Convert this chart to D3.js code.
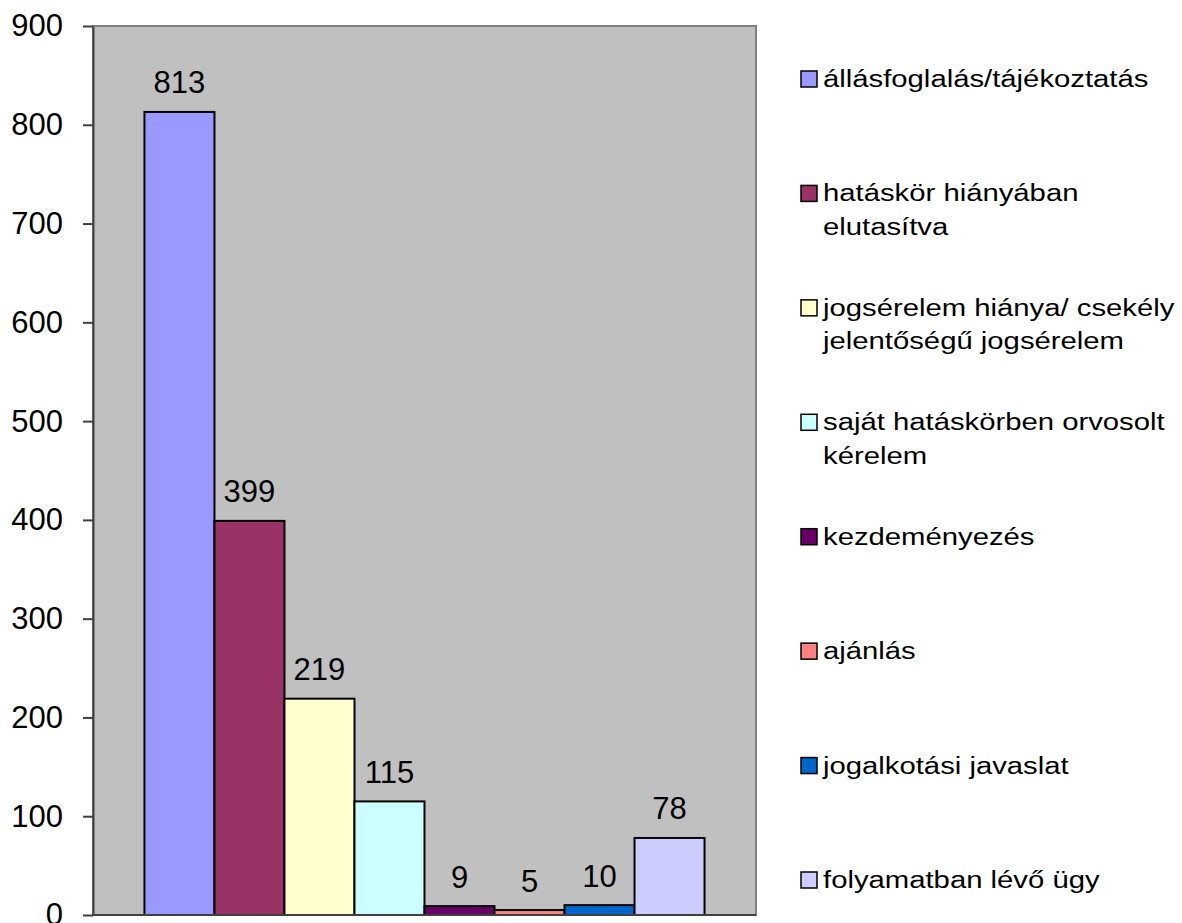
<!DOCTYPE html>
<html>
<head>
<meta charset="utf-8">
<script src="https://cdn.jsdelivr.net/npm/d3@7"></script>
<style>
  html, body { margin: 0; padding: 0; background: #fff; }
  svg { display: block; font-family: "Liberation Sans", Arial, sans-serif; }
</style>
</head>
<body>
<svg id="chart" width="1182" height="923"></svg>
<script>
// ---- data ----
const categories = [
    'állásfoglalás/tájékoztatás',
    'hatáskör hiányában\nelutasítva',
    'jogsérelem hiánya/ csekély\njelentőségű jogsérelem',
    'saját hatáskörben orvosolt\nkérelem',
    'kezdeményezés',
    'ajánlás',
    'jogalkotási javaslat',
    'folyamatban lévő ügy'
];
const values = [813, 399, 219, 115, 9, 5, 10, 78];
const barColors = ['#9999FF', '#993366', '#FFFFCC', '#CCFFFF', '#660066', '#FF8080', '#0066CC', '#CCCCFF'];
const yTicks = [0, 100, 200, 300, 400, 500, 600, 700, 800, 900];

// ---- layout ----
const plot = { left: 93, right: 756, top: 26, bottom: 915 };
const svg = d3.select('#chart');

const x = d3.scaleBand()
    .domain(categories)
    .range([plot.left, plot.right])
    .paddingInner(0)
    .paddingOuter(0.735);

const y = d3.scaleLinear()
    .domain([0, 900])
    .range([plot.bottom, plot.top]);

// Plot background + border
svg.append('rect')
    .attr('x', plot.left)
    .attr('y', plot.top)
    .attr('width', plot.right - plot.left)
    .attr('height', plot.bottom - plot.top)
    .attr('fill', '#C0C0C0')
    .attr('stroke', '#808080')
    .attr('stroke-width', 2);

// Bars
svg.selectAll('.bar')
    .data(values)
    .enter()
    .append('rect')
    .attr('class', 'bar')
    .attr('x', (d, i) => x(categories[i]))
    .attr('y', d => y(d))
    .attr('width', x.bandwidth())
    .attr('height', d => y(0) - y(d))
    .attr('fill', (d, i) => barColors[i])
    .attr('stroke', '#000')
    .attr('stroke-width', 2);

// Value labels
svg.selectAll('.value')
    .data(values)
    .enter()
    .append('text')
    .attr('class', 'value')
    .attr('x', (d, i) => x(categories[i]) + x.bandwidth() / 2)
    .attr('y', d => y(d) - 18.5)
    .attr('text-anchor', 'middle')
    .attr('font-size', 31)
    .attr('fill', '#000')
    .text(d => d);

// Y axis
const yAxis = svg.append('g')
    .attr('transform', `translate(${plot.left},0)`)
    .call(d3.axisLeft(y).tickValues(yTicks).tickSize(10).tickPadding(20).tickSizeOuter(0));
yAxis.selectAll('text')
    .attr('font-size', 31)
    .attr('font-family', '"Liberation Sans", Arial, sans-serif')
    .attr('fill', '#000');
yAxis.selectAll('.tick line').attr('stroke', '#404040').attr('stroke-width', 2);
yAxis.select('.domain').attr('stroke', '#404040').attr('stroke-width', 2);

// X axis line
svg.append('line')
    .attr('x1', plot.left - 1)
    .attr('x2', plot.right)
    .attr('y1', y(0))
    .attr('y2', y(0))
    .attr('stroke', '#404040')
    .attr('stroke-width', 2);

// Legend (text is drawn horizontally stretched, as in the original)
const ly = d3.scalePoint()
    .domain(categories)
    .range([79, 880]);

const legend = svg.selectAll('.legend')
    .data(categories)
    .enter()
    .append('g')
    .attr('class', 'legend')
    .attr('transform', d => `translate(801,${ly(d)})`);

legend.append('rect')
    .attr('x', 0)
    .attr('y', -8)
    .attr('width', 16)
    .attr('height', 16)
    .attr('fill', (d, i) => barColors[i])
    .attr('stroke', '#000')
    .attr('stroke-width', 1.5);

legend.append('text')
    .attr('font-size', 24.5)
    .attr('fill', '#000')
    .attr('transform', 'translate(22,0) scale(1.195,1)')
    .each(function(d) {
        const lines = d.split('\n');
        d3.select(this).selectAll('tspan')
            .data(lines)
            .enter()
            .append('tspan')
            .attr('x', 0)
            .attr('y', (l, j) => 8 + j * 33.5)
            .text(l => l);
    });
</script>
</body>
</html>
